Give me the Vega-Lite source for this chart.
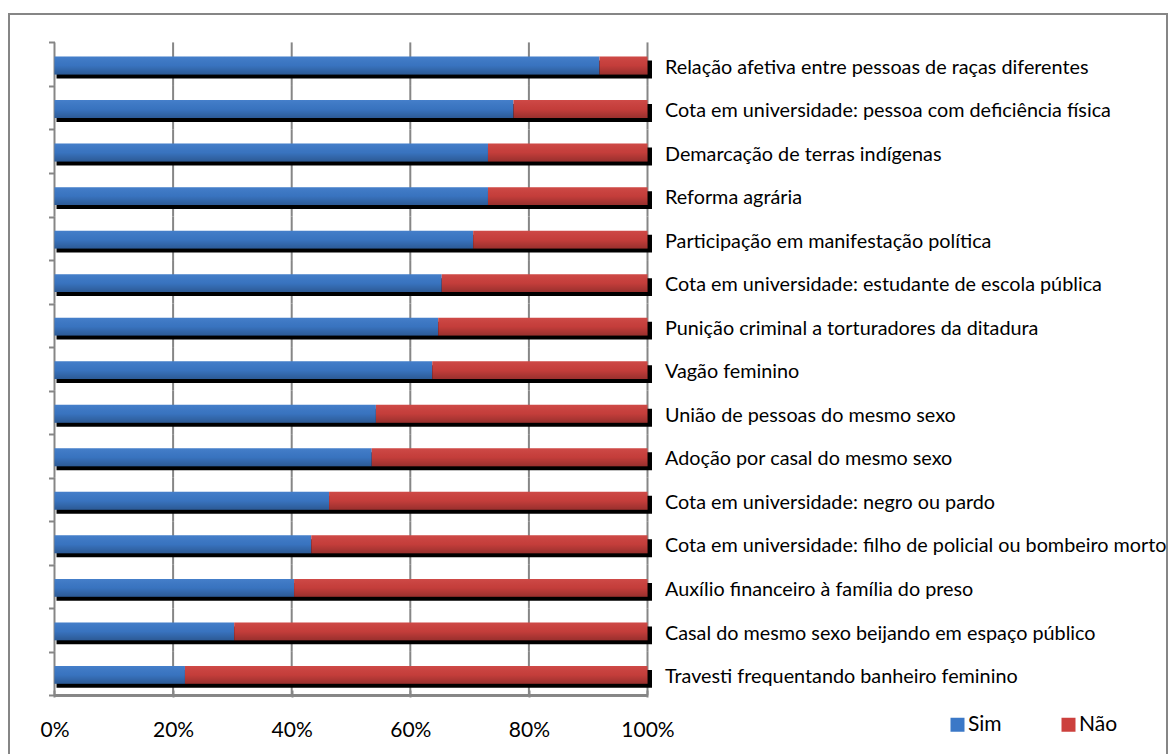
{
  "$schema": "https://vega.github.io/schema/vega-lite/v6.json",
  "width": 1158,
  "height": 740,
  "autosize": {"type": "none"},
  "padding": {"left": 9, "top": 14, "right": 9, "bottom": 0},
  "background": "white",
  "config": {
    "font": "Lato",
    "view": {"stroke": "#868686", "strokeWidth": 2, "strokeDash": [1898, 1158, 740]}
  },
  "data": {
    "values": [
      {"item": "Relação afetiva entre pessoas de raças diferentes", "Sim": 91.9, "Não": 8.1},
      {"item": "Cota em universidade: pessoa com deficiência física", "Sim": 77.4, "Não": 22.6},
      {"item": "Demarcação de terras indígenas", "Sim": 73.1, "Não": 26.9},
      {"item": "Reforma agrária", "Sim": 73.1, "Não": 26.9},
      {"item": "Participação em manifestação política", "Sim": 70.6, "Não": 29.4},
      {"item": "Cota em universidade: estudante de escola pública", "Sim": 65.3, "Não": 34.7},
      {"item": "Punição criminal a torturadores da ditadura", "Sim": 64.7, "Não": 35.3},
      {"item": "Vagão feminino", "Sim": 63.7, "Não": 36.3},
      {"item": "União de pessoas do mesmo sexo", "Sim": 54.2, "Não": 45.8},
      {"item": "Adoção por casal do mesmo sexo", "Sim": 53.5, "Não": 46.5},
      {"item": "Cota em universidade: negro ou pardo", "Sim": 46.3, "Não": 53.7},
      {"item": "Cota em universidade: filho de policial ou bombeiro morto", "Sim": 43.3, "Não": 56.7},
      {"item": "Auxílio financeiro à família do preso", "Sim": 40.4, "Não": 59.6},
      {"item": "Casal do mesmo sexo beijando em espaço público", "Sim": 30.3, "Não": 69.7},
      {"item": "Travesti frequentando banheiro feminino", "Sim": 22.0, "Não": 78.0}
    ]
  },
  "layer": [
    {
      "mark": {"type": "rect", "color": "#868686", "xOffset": -1, "x2Offset": 1},
      "encoding": {
        "x": {"datum": 0, "type": "quantitative", "scale": {"domain": [-0.076728, 1.876054], "nice": false, "zero": false},
          "axis": {"orient": "bottom", "offset": -64, "values": [0, 0.2, 0.4, 0.6, 0.8, 1], "format": ".0%", "domain": false, "grid": false, "tickSize": 7, "tickColor": "#868686", "tickWidth": 2, "labelFont": "Lato", "labelFontSize": 21, "labelColor": "#000000", "labelBaseline": "top", "labelPadding": 22, "labelFlush": false, "labelOverlap": false, "title": null}},
        "x2": {"datum": 0},
        "y": {"field": "item", "type": "nominal", "sort": null, "axis": null, "scale": {"type": "band", "paddingInner": 0, "paddingOuter": 1.10465, "align": 0.32632}}
      }
    },
    {
      "mark": {"type": "rect", "color": "#868686", "xOffset": -1, "x2Offset": 1},
      "encoding": {
        "x": {"datum": 0.2, "type": "quantitative", "scale": {"domain": [-0.076728, 1.876054], "nice": false, "zero": false},
          "axis": {"orient": "bottom", "offset": -64, "values": [0, 0.2, 0.4, 0.6, 0.8, 1], "format": ".0%", "domain": false, "grid": false, "tickSize": 7, "tickColor": "#868686", "tickWidth": 2, "labelFont": "Lato", "labelFontSize": 21, "labelColor": "#000000", "labelBaseline": "top", "labelPadding": 22, "labelFlush": false, "labelOverlap": false, "title": null}},
        "x2": {"datum": 0.2},
        "y": {"field": "item", "type": "nominal", "sort": null, "axis": null, "scale": {"type": "band", "paddingInner": 0, "paddingOuter": 1.10465, "align": 0.32632}}
      }
    },
    {
      "mark": {"type": "rect", "color": "#868686", "xOffset": -1, "x2Offset": 1},
      "encoding": {
        "x": {"datum": 0.4, "type": "quantitative", "scale": {"domain": [-0.076728, 1.876054], "nice": false, "zero": false},
          "axis": {"orient": "bottom", "offset": -64, "values": [0, 0.2, 0.4, 0.6, 0.8, 1], "format": ".0%", "domain": false, "grid": false, "tickSize": 7, "tickColor": "#868686", "tickWidth": 2, "labelFont": "Lato", "labelFontSize": 21, "labelColor": "#000000", "labelBaseline": "top", "labelPadding": 22, "labelFlush": false, "labelOverlap": false, "title": null}},
        "x2": {"datum": 0.4},
        "y": {"field": "item", "type": "nominal", "sort": null, "axis": null, "scale": {"type": "band", "paddingInner": 0, "paddingOuter": 1.10465, "align": 0.32632}}
      }
    },
    {
      "mark": {"type": "rect", "color": "#868686", "xOffset": -1, "x2Offset": 1},
      "encoding": {
        "x": {"datum": 0.6, "type": "quantitative", "scale": {"domain": [-0.076728, 1.876054], "nice": false, "zero": false},
          "axis": {"orient": "bottom", "offset": -64, "values": [0, 0.2, 0.4, 0.6, 0.8, 1], "format": ".0%", "domain": false, "grid": false, "tickSize": 7, "tickColor": "#868686", "tickWidth": 2, "labelFont": "Lato", "labelFontSize": 21, "labelColor": "#000000", "labelBaseline": "top", "labelPadding": 22, "labelFlush": false, "labelOverlap": false, "title": null}},
        "x2": {"datum": 0.6},
        "y": {"field": "item", "type": "nominal", "sort": null, "axis": null, "scale": {"type": "band", "paddingInner": 0, "paddingOuter": 1.10465, "align": 0.32632}}
      }
    },
    {
      "mark": {"type": "rect", "color": "#868686", "xOffset": -1, "x2Offset": 1},
      "encoding": {
        "x": {"datum": 0.8, "type": "quantitative", "scale": {"domain": [-0.076728, 1.876054], "nice": false, "zero": false},
          "axis": {"orient": "bottom", "offset": -64, "values": [0, 0.2, 0.4, 0.6, 0.8, 1], "format": ".0%", "domain": false, "grid": false, "tickSize": 7, "tickColor": "#868686", "tickWidth": 2, "labelFont": "Lato", "labelFontSize": 21, "labelColor": "#000000", "labelBaseline": "top", "labelPadding": 22, "labelFlush": false, "labelOverlap": false, "title": null}},
        "x2": {"datum": 0.8},
        "y": {"field": "item", "type": "nominal", "sort": null, "axis": null, "scale": {"type": "band", "paddingInner": 0, "paddingOuter": 1.10465, "align": 0.32632}}
      }
    },
    {
      "mark": {"type": "rect", "color": "#868686", "xOffset": -1, "x2Offset": 1},
      "encoding": {
        "x": {"datum": 1, "type": "quantitative", "scale": {"domain": [-0.076728, 1.876054], "nice": false, "zero": false},
          "axis": {"orient": "bottom", "offset": -64, "values": [0, 0.2, 0.4, 0.6, 0.8, 1], "format": ".0%", "domain": false, "grid": false, "tickSize": 7, "tickColor": "#868686", "tickWidth": 2, "labelFont": "Lato", "labelFontSize": 21, "labelColor": "#000000", "labelBaseline": "top", "labelPadding": 22, "labelFlush": false, "labelOverlap": false, "title": null}},
        "x2": {"datum": 1},
        "y": {"field": "item", "type": "nominal", "sort": null, "axis": null, "scale": {"type": "band", "paddingInner": 0, "paddingOuter": 1.10465, "align": 0.32632}}
      }
    },
    {
      "mark": {"type": "rule", "color": "#868686", "strokeWidth": 2},
      "encoding": {
        "x": {"datum": 0, "type": "quantitative", "scale": {"domain": [-0.076728, 1.876054], "nice": false, "zero": false},
          "axis": {"orient": "bottom", "offset": -64, "values": [0, 0.2, 0.4, 0.6, 0.8, 1], "format": ".0%", "domain": false, "grid": false, "tickSize": 7, "tickColor": "#868686", "tickWidth": 2, "labelFont": "Lato", "labelFontSize": 21, "labelColor": "#000000", "labelBaseline": "top", "labelPadding": 22, "labelFlush": false, "labelOverlap": false, "title": null}},
        "x2": {"datum": 1},
        "y": {"datum": "Travesti frequentando banheiro feminino", "type": "nominal", "bandPosition": 1, "axis": null, "scale": {"type": "band", "paddingInner": 0, "paddingOuter": 1.10465, "align": 0.32632}}
      }
    },
    {
      "mark": {"type": "bar", "color": "#000000", "height": {"band": 0.41}, "yOffset": 5.3, "y2Offset": 5.3, "xOffset": 2, "x2Offset": 4.5},
      "encoding": {
        "x": {"datum": 0, "type": "quantitative", "scale": {"domain": [-0.076728, 1.876054], "nice": false, "zero": false},
          "axis": {"orient": "bottom", "offset": -64, "values": [0, 0.2, 0.4, 0.6, 0.8, 1], "format": ".0%", "domain": false, "grid": false, "tickSize": 7, "tickColor": "#868686", "tickWidth": 2, "labelFont": "Lato", "labelFontSize": 21, "labelColor": "#000000", "labelBaseline": "top", "labelPadding": 22, "labelFlush": false, "labelOverlap": false, "title": null}},
        "x2": {"datum": 1},
        "y": {
          "field": "item", "type": "nominal", "sort": null,
          "scale": {"type": "band", "paddingInner": 0, "paddingOuter": 1.10465, "align": 0.32632},
          "axis": {"orient": "right", "offset": -519.5, "domain": false, "ticks": false, "tickSize": 0, "grid": false, "labelPadding": 17, "labelFont": "Lato", "labelFontSize": 19.8, "labelColor": "#000000", "labelLimit": 800, "labelBaseline": "alphabetic", "labelOffset": 9.5, "labelAlign": "left", "title": null}
        }
      }
    },
    {
      "transform": [{"fold": ["Sim", "Não"], "as": ["resposta", "valor"]}],
      "mark": {"type": "bar", "height": {"band": 0.41}, "yOffset": 1.3, "y2Offset": 1.3},
      "encoding": {
        "x": {
          "field": "valor", "type": "quantitative", "stack": "normalize",
          "scale": {"domain": [-0.076728, 1.876054], "nice": false, "zero": false},
          "axis": {"orient": "bottom", "offset": -64, "values": [0, 0.2, 0.4, 0.6, 0.8, 1], "format": ".0%", "domain": false, "grid": false, "tickSize": 7, "tickColor": "#868686", "tickWidth": 2, "labelFont": "Lato", "labelFontSize": 21, "labelColor": "#000000", "labelBaseline": "top", "labelPadding": 22, "labelFlush": false, "labelOverlap": false, "title": null}
        },
        "y": {
          "field": "item", "type": "nominal", "sort": null,
          "scale": {"type": "band", "paddingInner": 0, "paddingOuter": 1.10465, "align": 0.32632},
          "axis": {"orient": "left", "offset": -45.5, "domain": false, "labels": false, "ticks": true, "tickBand": "extent", "tickSize": 6, "tickColor": "#868686", "tickWidth": 2, "grid": false, "title": null}
        },
        "color": {
          "field": "resposta", "type": "nominal",
          "scale": {"domain": ["Sim", "Não"], "range": ["#3b78c7", "#cc403d"]},
          "legend": {"orient": "none", "legendX": 938, "legendY": 700, "direction": "horizontal", "title": null, "symbolType": "square", "symbolSize": 196, "symbolStrokeWidth": 0, "symbolOpacity": 1, "labelFont": "Lato", "labelFontSize": 21, "labelColor": "#000000", "labelOffset": 0, "columnPadding": 56}
        },
        "order": {"field": "resposta", "sort": "descending"}
      }
    },
    {
      "mark": {
        "type": "bar", "height": {"band": 0.41}, "yOffset": 1.3, "y2Offset": 1.3,
        "color": {"gradient": "linear", "x1": 0, "y1": 0, "x2": 0, "y2": 1, "stops": [{"offset": 0, "color": "rgba(255,255,255,0.05)"}, {"offset": 0.5, "color": "rgba(0,0,0,0.04)"}, {"offset": 1, "color": "rgba(0,0,0,0.25)"}]}
      },
      "encoding": {
        "x": {"datum": 0, "type": "quantitative", "scale": {"domain": [-0.076728, 1.876054], "nice": false, "zero": false},
          "axis": {"orient": "bottom", "offset": -64, "values": [0, 0.2, 0.4, 0.6, 0.8, 1], "format": ".0%", "domain": false, "grid": false, "tickSize": 7, "tickColor": "#868686", "tickWidth": 2, "labelFont": "Lato", "labelFontSize": 21, "labelColor": "#000000", "labelBaseline": "top", "labelPadding": 22, "labelFlush": false, "labelOverlap": false, "title": null}},
        "x2": {"datum": 1},
        "y": {"field": "item", "type": "nominal", "sort": null, "axis": null, "scale": {"type": "band", "paddingInner": 0, "paddingOuter": 1.10465, "align": 0.32632}}
      }
    }
  ],
  "resolve": {"axis": {"y": "independent"}}
}
